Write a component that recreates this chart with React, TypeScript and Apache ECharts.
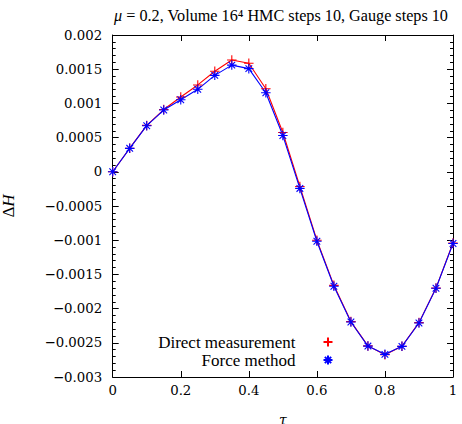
import React, { useEffect, useRef } from "react";
import * as echarts from "echarts";

const tau = [0, 0.05, 0.1, 0.15, 0.2, 0.25, 0.3, 0.35, 0.4, 0.45, 0.5, 0.55, 0.6, 0.65, 0.7, 0.75, 0.8, 0.85, 0.9, 0.95, 1.0];
const directMeasurement = [0, 0.000345, 0.000678, 0.00091, 0.001094, 0.00127, 0.00147, 0.001635, 0.001587, 0.001215, 0.000575, -0.000215, -0.001, -0.00166, -0.00219, -0.002545, -0.002675, -0.00255, -0.002205, -0.0017, -0.00104];
const forceMethod = [0, 0.000343, 0.000674, 0.000903, 0.001054, 0.001206, 0.00141, 0.00156, 0.001508, 0.001155, 0.00053, -0.000243, -0.001015, -0.001673, -0.002196, -0.002548, -0.002669, -0.002552, -0.00221, -0.001703, -0.001049];
const xTickValues = [0, 0.2, 0.4, 0.6, 0.8, 1];
const yTickValues = [-0.003, -0.0025, -0.002, -0.0015, -0.001, -0.0005, 0, 0.0005, 0.001, 0.0015, 0.002];
const xTicks = { min: 0, max: 1, interval: 0.2 };
const yTicks = { min: -0.003, max: 0.002, interval: 0.0005 };

const FONT = "Liberation Serif";
const TICKFONT = "DejaVu Serif";
const TFS = 13.3;
const plusPath = "path://M0,5L10,5M5,0L5,10";
const starPath = "path://M0,5L10,5M5,0L5,10M1.5,1.5L8.5,8.5M1.5,8.5L8.5,1.5";

function fmtNum(v: number, digits: number) {
  const f = Math.pow(10, digits);
  const r = Math.round(v * f) / f;
  if (r === 0) return "0";
  return r < 0 ? "\u2212" + String(-r) : String(r);
}

export default function App() {
  const ref = useRef<HTMLDivElement>(null);
  useEffect(() => {
    if (!ref.current) return;
    const chart = echarts.init(ref.current, undefined, { renderer: "svg" });
    const mk = () => ({
      axisLine: { show: true, onZero: false, lineStyle: { color: "#000", width: 1 } },
      axisTick: { show: true, inside: true, length: 6, lineStyle: { color: "#000" } },
      splitLine: { show: false },
    });
    const minor = () => ({ show: true, splitNumber: 5, length: 3, lineStyle: { color: "#000" } });
    const legendText = { fontFamily: FONT, fontSize: 17, color: "#000", padding: [0, 23, 0, 0] };
    chart.setOption({
      animation: false,
      textStyle: { fontFamily: TICKFONT },
      title: {
        text: "{i|\u03bc} = 0.2, Volume 16\u2074 HMC steps 10, Gauge steps 10",
        left: 276,
        textAlign: "center",
        top: 3,
        textStyle: {
          fontFamily: FONT, fontSize: 16.2, fontWeight: "normal", color: "#000",
          rich: { i: { fontFamily: FONT, fontSize: 16.2, fontStyle: "italic", color: "#000" } },
        },
      },
      grid: { left: 112.7, right: 9, top: 35, bottom: 47, containLabel: false, outerBoundsMode: "none" },
      xAxis: [
        {
          type: "value", min: xTicks.min, max: xTicks.max, interval: xTicks.interval, ...mk(),
          axisLabel: {
            show: true, fontFamily: TICKFONT, fontSize: TFS, color: "#000", margin: 7,
            formatter: (v: number) => fmtNum(v, 1),
          },
          name: "\u03c4", nameLocation: "middle", nameGap: 36,
          nameTextStyle: { fontFamily: TICKFONT, fontSize: 14, fontStyle: "italic", color: "#000" },
        },
        { type: "value", position: "top", min: xTicks.min, max: xTicks.max, interval: xTicks.interval, ...mk(), axisLabel: { show: false } },
      ],
      yAxis: [
        {
          type: "value", min: yTicks.min, max: yTicks.max, interval: yTicks.interval, ...mk(), minorTick: minor(),
          axisLabel: {
            show: true, fontFamily: TICKFONT, fontSize: TFS, color: "#000", margin: 10.5,
            formatter: (v: number) => fmtNum(v, 4),
          },
          name: "\u0394{i|H}", nameLocation: "middle", nameGap: 96, nameRotate: 90,
          nameTextStyle: {
            fontFamily: FONT, fontSize: 17, color: "#000",
            rich: { i: { fontFamily: FONT, fontSize: 17, fontStyle: "italic", color: "#000" } },
          },
        },
        { type: "value", position: "right", min: yTicks.min, max: yTicks.max, interval: yTicks.interval, ...mk(), minorTick: minor(), axisLabel: { show: false } },
      ],
      legend: [
        {
          data: [{ name: "Direct measurement", icon: plusPath }],
          right: 128.5, top: 333.5, itemWidth: 9, itemHeight: 9, align: "right",
          selectedMode: false, padding: 0,
          textStyle: legendText,
        },
        {
          data: [{ name: "Force method", icon: starPath }],
          right: 128.5, top: 351.5, itemWidth: 9, itemHeight: 9, align: "right",
          selectedMode: false, padding: 0,
          textStyle: legendText,
        },
      ],
      series: [
        {
          name: "Direct measurement", type: "line",
          data: tau.map((t, i) => [t, directMeasurement[i]]),
          symbol: plusPath, symbolSize: 9.5,
          lineStyle: { color: "#ff0000", width: 1.1 },
          itemStyle: { color: "#ff0000", borderColor: "#ff0000", borderWidth: 1.1 },
          emphasis: { disabled: true },
        },
        {
          name: "Force method", type: "line",
          data: tau.map((t, i) => [t, forceMethod[i]]),
          symbol: starPath, symbolSize: 9.5,
          lineStyle: { color: "#0000ff", width: 1.1 },
          itemStyle: { color: "#0000ff", borderColor: "#0000ff", borderWidth: 1.1 },
          emphasis: { disabled: true },
        },
      ],
    });
    return () => chart.dispose();
  }, []);
  return <div ref={ref} style={{ position: "absolute", left: 0, top: 0, width: 462, height: 424 }} />;
}
